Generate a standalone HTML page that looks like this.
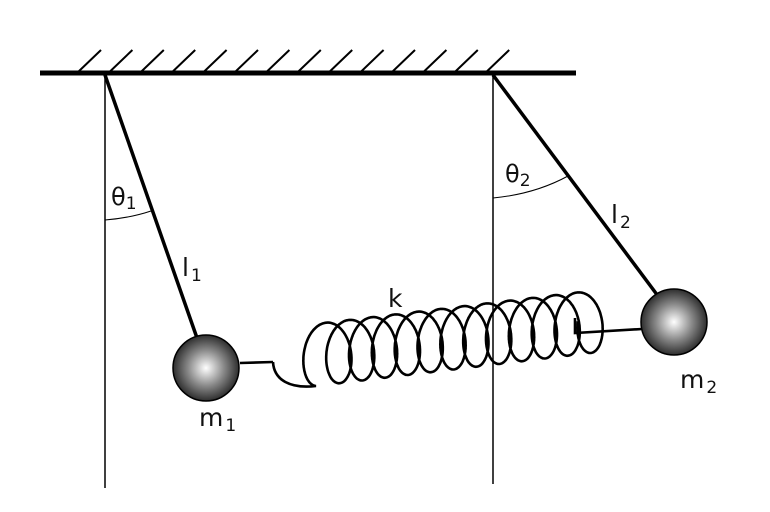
<!DOCTYPE html>
<html><head><meta charset="utf-8"><style>
html,body{margin:0;padding:0;background:#fff;width:770px;height:512px;overflow:hidden}
text{font-family:"DejaVu Sans","Liberation Sans",sans-serif;fill:#111}
</style></head><body>
<svg id="s" width="770" height="512" viewBox="0 0 770 512" xmlns="http://www.w3.org/2000/svg">
<defs>
<radialGradient id="g" cx="0.5" cy="0.5" r="0.55">
<stop offset="0" stop-color="#fff"/><stop offset="0.5" stop-color="#888"/><stop offset="1" stop-color="#1a1a1a"/>
</radialGradient>
</defs>
<line x1="40" y1="73" x2="576" y2="73" stroke="#000" stroke-width="5"/>
<g id="hatch" stroke="#000" stroke-width="2"></g>
<line x1="105" y1="75" x2="105" y2="488" stroke="#000" stroke-width="1.5"/>
<line x1="493" y1="75" x2="493" y2="484" stroke="#000" stroke-width="1.5"/>
<line x1="105" y1="75" x2="197" y2="338" stroke="#000" stroke-width="3.5"/>
<line x1="493" y1="75" x2="658" y2="296" stroke="#000" stroke-width="3.5"/>
<path d="M105,220 Q130,218 151,211" fill="none" stroke="#000" stroke-width="1"/>
<path d="M493,198 Q535,194 568,176" fill="none" stroke="#000" stroke-width="1"/>
<path id="coil" fill="none" stroke="#000" stroke-width="2.6"/>
<polyline points="575,318 575,333 642,329" fill="none" stroke="#000" stroke-width="2.6"/>
<polyline points="240,363 273,362" fill="none" stroke="#000" stroke-width="2.6"/>
<circle cx="206" cy="368" r="33" fill="url(#g)" stroke="#000" stroke-width="1.5"/>
<circle cx="674" cy="322" r="33" fill="url(#g)" stroke="#000" stroke-width="1.5"/>
<text x="111" y="205" font-size="24">θ<tspan font-size="17" dy="4">1</tspan></text>
<text x="182" y="276" font-size="25">l<tspan font-size="17" dy="5" dx="2">1</tspan></text>
<text x="388" y="307" font-size="25">k</text>
<text x="199" y="426" font-size="25">m<tspan font-size="17" dy="5" dx="2">1</tspan></text>
<text x="505" y="182" font-size="24">θ<tspan font-size="17" dy="4">2</tspan></text>
<text x="611" y="223" font-size="25">l<tspan font-size="17" dy="5" dx="2">2</tspan></text>
<text x="680" y="388" font-size="25">m<tspan font-size="17" dy="5" dx="2">2</tspan></text>
</svg>
<script>
var h=document.getElementById('hatch'),s='';
for(var i=0;i<14;i++){var x=77+i*31.4;s+='<line x1="'+x+'" y1="73" x2="'+(x+24)+'" y2="50"/>';}
h.innerHTML=s;
var d='M273,362 C274,380 290,389 316,386';
var N=12,x0=316,y0=355,x1=590,y1=322;
for(var k=0;k<=N*120+30;k++){
 var th=Math.PI+k*2*Math.PI/120;
 var f=(th-Math.PI)/(2*Math.PI*N);
 var cx=x0+(x1-x0)*f, cy=y0+(y1-y0)*f;
 var x=cx+18*Math.sin(th), y=cy-31*Math.cos(th);
 d+=' L'+x.toFixed(1)+','+y.toFixed(1);
}
document.getElementById('coil').setAttribute('d',d);
</script>
</body></html>
